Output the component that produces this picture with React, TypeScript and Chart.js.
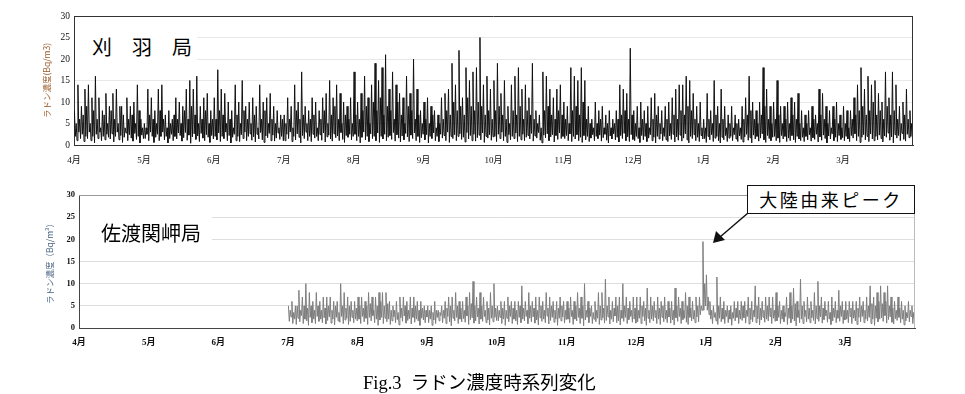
import React, { useEffect, useRef } from "react";
import { Chart, registerables } from "chart.js";

Chart.register(...registerables);

// ---- data ----
const MONTHS = ["4月", "5月", "6月", "7月", "8月", "9月", "10月", "11月", "12月", "1月", "2月", "3月"];
const PER_MONTH = 40;

// 刈羽局: local maxima, 40 per month, April → March
const kariwaPeaks = [
  8, 5, 14, 6, 9, 7, 13, 9, 14, 5, 11, 8, 16, 6, 11, 4, 8, 7, 12, 5, 9, 8, 12, 6, 13, 5, 9, 9, 7, 4, 11, 6, 9, 7, 10, 5, 14, 8, 6, 4,
  5, 4, 13, 7, 11, 6, 8, 5, 13, 8, 14, 6, 7, 4, 8, 5, 6, 7, 11, 6, 10, 5, 9, 8, 13, 6, 15, 9, 13, 7, 16, 5, 9, 6, 11, 8, 12, 5, 8, 6,
  11, 6, 17.5, 8, 13, 7, 12, 5, 10, 6, 8, 4, 14, 7, 10, 5, 15, 8, 9, 6, 10, 5, 11, 7, 9, 4, 14, 6, 10, 8, 11, 5, 12, 6, 9, 5, 8, 4, 7, 6,
  7, 5, 11, 6, 9, 4, 14, 8, 10, 6, 17, 7, 9, 5, 8, 6, 11, 7, 10, 4, 8, 6, 11, 8, 12, 5, 15, 7, 11, 9, 14, 6, 12, 5, 10, 7, 9, 6, 11, 5,
  17, 7, 10, 6, 12, 8, 16, 9, 11, 5, 14, 10, 19, 8, 15, 11, 18, 7, 21, 9, 13, 8, 17, 6, 14, 10, 12, 7, 11, 5, 16, 9, 12, 8, 20, 6, 13, 7, 8, 5,
  10, 6, 11, 5, 9, 7, 8, 4, 7, 5, 11, 6, 12, 8, 13, 7, 19, 10, 14, 8, 22, 9, 11, 7, 18, 11, 15, 9, 17, 8, 18, 10, 25, 9, 14, 7, 16, 8, 13, 6,
  15, 8, 19, 9, 12, 7, 15, 6, 9, 5, 14, 8, 16, 7, 18, 9, 13, 6, 14, 8, 11, 7, 19, 6, 8, 5, 7, 4, 17, 8, 16, 9, 13, 7, 11, 6, 13, 8, 14, 7,
  10, 6, 9, 5, 18, 8, 16, 9, 15, 7, 18, 10, 15, 6, 9, 5, 6, 4, 10, 5, 8, 6, 9, 4, 7, 5, 8, 4, 6, 5, 8, 6, 14, 7, 13, 8, 12, 6, 22.5, 7,
  8, 5, 9, 4, 10, 6, 8, 5, 9, 4, 11, 6, 12, 7, 9, 5, 8, 4, 9, 6, 10, 5, 11, 7, 13, 6, 14, 8, 14, 7, 16, 9, 15, 8, 12, 6, 9, 5, 10, 4,
  6, 4, 12, 6, 8, 5, 15, 7, 9, 5, 13, 6, 9, 4, 7, 5, 9, 4, 7, 5, 6, 4, 9, 6, 11, 7, 16, 8, 10, 6, 8, 5, 10, 7, 18, 9, 13, 6, 9, 5,
  10, 6, 15, 7, 9, 5, 9, 6, 10, 5, 11, 7, 10, 6, 12, 5, 8, 4, 7, 5, 8, 4, 9, 6, 7, 5, 13, 7, 12, 6, 9, 5, 8, 4, 9, 6, 10, 5, 7, 4,
  9, 5, 8, 4, 8, 6, 11, 7, 14, 8, 18, 9, 13, 7, 16, 8, 14, 10, 15, 7, 12, 8, 10, 6, 17, 9, 11, 7, 17, 8, 14, 6, 9, 5, 10, 7, 13, 6, 8, 5,
];
// 刈羽局: local minima between them
const kariwaLows = [
  2, 1, 3, 1.5, 2.5, 0.8, 2, 1.5, 3, 1, 2, 0.5, 2.5, 1.5, 3, 1, 2, 1.2, 2.5, 1.8, 1.4, 2.6, 0.7, 2, 3, 1.2, 2.2, 0.6, 1.8, 2.8, 1, 2.4, 1.6, 0.9, 2.7, 1.3, 2, 0.5, 2.3, 1.5,
  1.5, 2.5, 1, 3, 2, 0.6, 1.8, 2.5, 1, 2, 3, 1.2, 2, 0.5, 1.5, 2.5, 1, 2, 1.4, 2.8, 2.2, 0.9, 1.7, 2.9, 1.1, 2.3, 0.4, 1.9, 2.6, 1.3, 2.1, 0.8, 2.7, 1.6, 1, 2.4, 1.8, 0.6, 2.2, 1.4,
  2, 1.2, 2.8, 0.8, 2, 1.5, 3, 1, 2.2, 0.5, 1.8, 2.5, 1, 2, 0.8, 2.4, 1.5, 3, 1, 2, 2.6, 1.1, 1.9, 0.7, 2.5, 1.4, 2.9, 1.2, 0.6, 2.1, 1.7, 2.7, 1, 2.3, 0.9, 1.6, 2.8, 1.3, 2, 1,
  1, 2.5, 1.5, 3, 0.8, 2, 1.2, 2.6, 1.8, 0.5, 2.2, 1.5, 3, 1, 2, 0.8, 2.5, 1.6, 2, 1, 2.4, 1.1, 2.8, 0.7, 1.9, 2.3, 1.4, 0.9, 2.6, 1.7, 2.1, 1, 2.9, 1.3, 0.6, 2.2, 1.8, 2.5, 1.2, 2,
  2.5, 1, 2, 0.5, 1.8, 3, 1.2, 2, 0.8, 2.6, 1.5, 2, 1, 2.8, 0.6, 2, 1.4, 2.5, 1, 1.8, 2.2, 1.3, 2.9, 0.9, 2.4, 1.6, 0.7, 2.1, 1.2, 2.7, 1.9, 0.8, 2.3, 1.5, 2.8, 1, 2, 0.6, 1.7, 2.5,
  1.2, 2.4, 0.5, 2, 1.5, 2.8, 1, 2, 0.8, 2.5, 1.6, 2.2, 1, 3, 0.6, 2, 1.5, 2.4, 1, 2, 2.6, 1.3, 1.8, 0.7, 2.9, 1.4, 2.2, 1, 2.5, 0.9, 1.7, 2.3, 1.2, 2.8, 0.6, 2, 1.6, 2.4, 1.1, 1.9,
  2, 0.8, 2.5, 1.5, 3, 1, 2, 0.6, 2.4, 1.2, 2, 1.5, 2.8, 0.8, 2, 1.2, 2.5, 1, 1.8, 2.2, 1.4, 2.7, 0.9, 2.1, 1.6, 2.9, 1.1, 0.5, 2.3, 1.7, 2.6, 1, 1.9, 2.4, 0.7, 2.2, 1.3, 2.8, 1.5, 2,
  1.5, 2.2, 1, 2.6, 0.8, 2, 1.4, 2.4, 1, 1.8, 0.6, 2.2, 1.2, 2, 0.8, 1.6, 2.4, 1, 2, 1.5, 2.3, 0.9, 1.7, 2.5, 1.1, 0.5, 2.1, 1.4, 2.6, 1.2, 1.8, 0.7, 2.2, 1.5, 2.7, 1, 1.9, 0.8, 2.4, 1.3,
  1, 2, 1.5, 0.6, 2.2, 1.2, 2, 0.8, 1.6, 2.4, 1, 1.8, 0.5, 2, 1.4, 2.6, 1, 2, 1.2, 0.8, 2.1, 1.3, 2.5, 0.7, 1.9, 1.1, 2.3, 0.9, 1.6, 2.6, 1.2, 0.5, 2, 1.5, 2.4, 1, 1.8, 0.8, 2.2, 1.4,
  1.5, 0.6, 2, 1.2, 2.4, 0.8, 1.6, 2, 1, 0.5, 1.8, 1.2, 2.2, 0.8, 1.6, 2, 1, 2.4, 1.4, 0.8, 2.1, 1.3, 0.7, 1.9, 2.5, 1.1, 1.7, 0.5, 2.3, 1.4, 2, 0.9, 1.6, 2.6, 1.2, 0.6, 2.2, 1.5, 1, 1.8,
  2, 1, 1.6, 0.6, 2.2, 1.4, 2, 0.8, 1.6, 1, 2.2, 1.2, 0.6, 2, 1.4, 1, 1.8, 0.8, 2, 1.2, 2.4, 0.9, 1.7, 1.3, 2.5, 0.7, 1.9, 1.1, 2.3, 1.5, 0.5, 2.1, 1.4, 2.6, 1, 1.8, 0.8, 2.2, 1.3, 1.7,
  1, 2, 1.4, 0.8, 2.2, 1.6, 2.6, 1, 2, 0.6, 1.8, 2.4, 1.2, 2, 0.8, 2.6, 1.4, 1, 2, 1.2, 2.3, 1.5, 0.7, 2.1, 1.8, 2.8, 1.1, 1.9, 0.5, 2.4, 1.6, 2.2, 1, 2.7, 1.3, 0.9, 2.5, 1.7, 2, 1.2,
];

// 佐渡関岬局: starts in July (month index 3), 40 per month, July → March
const SADO_START = 3;
const sadoPeaks = [
  5, 4, 6, 3.5, 5, 5, 8.5, 4, 7, 5, 10, 4.5, 8, 5, 6, 4, 8, 5, 6, 4, 7, 4.5, 7, 5, 7, 4, 6, 5, 6, 3.5, 10, 5, 8, 4.5, 7, 5, 6, 4, 6, 4.5,
  7, 5, 7, 4.5, 6, 5, 8, 5.5, 7, 4, 7, 5, 8, 6, 8, 5, 8, 5.5, 6, 4, 5, 4, 6, 3.5, 7, 4.5, 7, 5, 6, 4, 7, 4.5, 7, 5, 6, 4, 6, 4.5, 5, 4,
  5, 4, 5, 3.5, 6, 4, 4, 3.5, 5, 4, 6, 4.5, 7, 5, 7, 4, 8, 5, 6, 4.5, 6, 4, 7, 5, 8, 5.5, 10.5, 5, 7, 4.5, 8, 5, 7, 4, 6, 4.5, 8, 5, 10, 4.5,
  5, 4, 6, 4.5, 6, 4, 7, 5, 6, 4.5, 6, 4, 6, 5, 9.5, 4.5, 6, 4, 8, 5, 6, 4.5, 7, 4, 7, 5, 6, 4, 8, 4.5, 7, 5, 6, 4, 6, 4.5, 7, 5, 6, 4,
  6, 4.5, 7, 4, 6, 5, 8, 4.5, 7, 5, 10, 4, 6, 4.5, 5, 3.5, 6, 4, 8, 5, 8, 4.5, 11, 5, 7, 4, 6, 4.5, 7, 5, 7, 4, 10, 5, 7, 4.5, 6, 4, 7, 4.5,
  7, 4, 7, 5, 6, 4.5, 9, 4, 7, 5, 6, 4, 7, 4.5, 6, 5, 7, 4, 6, 4.5, 6, 4, 9, 5, 7, 4.5, 6, 4, 8, 5, 7, 4.5, 6, 4, 7, 5, 7, 5, 19.5, 10,
  12, 7, 6, 4, 5, 3.5, 11.5, 5, 7, 4.5, 6, 4, 5, 4, 5, 3.5, 6, 4.5, 6, 4, 6, 5, 6, 4, 7, 4.5, 6, 4, 9.5, 5, 7, 4.5, 6, 4, 7, 5, 7, 4.5, 7, 4,
  8, 5, 6, 4, 5, 3.5, 7, 4.5, 8, 5, 9, 5.5, 6, 4, 11, 5, 6, 4, 7, 4.5, 6, 4, 8, 5, 10.5, 5, 7, 4.5, 6, 4, 6, 3.5, 7, 4.5, 6, 4, 8.5, 5, 6, 4,
  6, 4, 6, 4.5, 6, 4, 6, 4.5, 7, 5, 6, 4, 7, 5, 9.5, 5.5, 7, 5, 8, 6, 9.5, 5.5, 8, 6, 9.5, 5, 7, 4.5, 6, 4, 7, 4.5, 6, 4, 5, 3.5, 6, 4, 5, 3.5,
];
const sadoLows = [
  1.5, 2.5, 1, 2, 0.8, 2.2, 1.4, 2.8, 1, 2, 1.6, 0.6, 2.4, 1.2, 2, 1, 2.6, 1.5, 2, 1.2, 2.3, 0.9, 1.7, 2.5, 1.1, 2, 0.7, 2.4, 1.6, 1.3, 2.6, 1, 1.8, 2.2, 0.8, 1.5, 2.4, 1.2, 2, 1.6,
  2, 1, 2.6, 1.4, 2.2, 0.8, 2.4, 1.6, 2.8, 1.2, 2, 0.6, 1.8, 2.4, 1, 2.2, 1.4, 2, 0.8, 1.6, 2.5, 1.2, 1.9, 0.7, 2.3, 1.5, 2.7, 1.1, 1.7, 2.1, 0.9, 2.4, 1.3, 2, 1.6, 0.6, 2.2, 1.8, 1.2, 2.5,
  1.2, 2, 0.6, 1.8, 1, 2.4, 1.6, 2.8, 1.2, 2.2, 1, 2.6, 1.4, 0.5, 2.2, 1.6, 2.4, 1, 2, 1.4, 2.1, 1.3, 2.7, 0.8, 1.9, 2.3, 1.1, 1.6, 2.5, 0.9, 2, 1.5, 2.6, 1.2, 1.8, 0.7, 2.2, 1.4, 2.4, 1.7,
  1.6, 2.4, 1, 2, 0.6, 2.2, 1.4, 2.6, 1, 2, 1.6, 0.8, 2.4, 1.2, 2, 1.6, 2.6, 1, 2.2, 1.4, 2.5, 1.1, 1.8, 0.7, 2.3, 1.5, 2, 1.2, 2.7, 0.9, 1.7, 2.4, 1.3, 2, 0.6, 2.2, 1.6, 2.5, 1.1, 1.9,
  2, 1.2, 2.6, 0.8, 2, 1.6, 2.4, 1, 2.2, 0.5, 1.8, 2.4, 1.2, 2.6, 1, 2, 1.4, 2.2, 0.8, 1.8, 2.3, 1.1, 1.7, 2.5, 0.9, 2, 1.4, 2.7, 1.2, 1.6, 0.7, 2.2, 1.5, 2.4, 1, 1.9, 2.6, 1.3, 2, 1.1,
  1.4, 2.2, 1, 2.6, 1.6, 0.6, 2.2, 1.2, 2, 1.6, 2.4, 1, 2, 0.8, 2.4, 1.4, 2, 1.2, 2.5, 1.1, 1.8, 0.7, 2.3, 1.5, 2.6, 1, 1.9, 2.2, 1.3, 0.8, 2.4, 1.6, 2, 1.2, 2.5, 1.4, 3, 4, 4, 5,
  4, 3, 2, 1, 2.4, 1.6, 0.8, 2.2, 1.4, 2, 1, 2.6, 1.2, 2, 0.6, 2.2, 1.6, 2.4, 1, 2, 1.7, 2.3, 1.1, 2.6, 0.9, 1.9, 1.4, 2.5, 1.2, 2.1, 0.7, 1.8, 2.4, 1.3, 2, 1.6, 2.6, 1, 2.2, 1.5,
  1.6, 2.4, 1, 2, 1.4, 2.6, 0.8, 2.2, 1.2, 2, 1.6, 0.5, 2.4, 1.2, 2, 1, 2.6, 1.4, 2, 1.2, 2.3, 1.7, 0.9, 2.1, 1.5, 2.5, 1.1, 1.9, 2.7, 1.3, 2, 0.8, 1.6, 2.4, 1.2, 2.2, 1.5, 2.6, 1, 1.8,
  2, 1.2, 2.6, 1, 2.2, 1.6, 0.8, 2.4, 1.4, 2.6, 1.2, 2, 1.6, 2.4, 1, 2, 0.6, 2.2, 1.4, 2, 2.3, 1.5, 2.8, 1.1, 1.9, 2.5, 1.3, 0.9, 2.1, 1.7, 2.4, 1.2, 2, 0.7, 1.6, 2.3, 1.4, 2.6, 1, 1.8,
];

// ---- helpers ----
function envelopePoints(peaks: number[], lows: number[], startMonth: number) {
  const pts: { x: number; y: number }[] = [];
  peaks.forEach((p, i) => {
    const m = startMonth + Math.floor(i / PER_MONTH);
    const k = i % PER_MONTH;
    pts.push({ x: m + (k + 0.25) / PER_MONTH, y: p });
    pts.push({ x: m + (k + 0.75) / PER_MONTH, y: lows[i] });
  });
  return pts;
}

const SERIF = "'Liberation Serif', 'Times New Roman', 'Noto Sans CJK JP', serif";
const GOTHIC = "'Noto Sans CJK JP', 'Noto Sans', sans-serif";

const framePlugin = {
  id: "frame",
  afterDraw(chart: any, _args: any, opts: any) {
    const { ctx, chartArea } = chart;
    const { left, top, right, bottom } = chartArea;
    ctx.save();
    ctx.lineWidth = 1;
    ctx.strokeStyle = opts.topColor;
    ctx.beginPath();
    ctx.moveTo(left, top + 0.5);
    ctx.lineTo(right, top + 0.5);
    ctx.stroke();
    ctx.strokeStyle = opts.rightColor;
    ctx.beginPath();
    ctx.moveTo(right - 0.5, top);
    ctx.lineTo(right - 0.5, bottom);
    ctx.stroke();
    ctx.restore();
  },
};

type PanelProps = {
  top: number;
  height: number;
  data: { x: number; y: number }[];
  color: string;
  padLeft: number;
  padTop: number;
  padRight: number;
  yWidth: number;
  xHeight: number;
  yTitle: string;
  yTitleColor: string;
  yTickSize: number;
  yTickWeight: string;
  xTickPad: number;
  frameTop: string;
  frameRight: string;
  axisColor: string;
  gridColor: string;
};

function Panel(p: PanelProps) {
  const ref = useRef<HTMLCanvasElement | null>(null);
  useEffect(() => {
    if (!ref.current) return;
    const chart = new Chart(ref.current, {
      type: "line",
      data: {
        datasets: [
          {
            data: p.data,
            borderColor: p.color,
            borderWidth: 1,
            pointRadius: 0,
            tension: 0,
            fill: false,
          },
        ],
      },
      options: {
        responsive: false,
        animation: false,
        events: [],
        layout: { padding: { left: p.padLeft, top: p.padTop, right: p.padRight, bottom: 0 } },
        plugins: {
          legend: { display: false },
          tooltip: { enabled: false },
          frame: { topColor: p.frameTop, rightColor: p.frameRight },
        } as any,
        scales: {
          x: {
            type: "linear",
            min: 0,
            max: 12,
            afterFit: (s: any) => {
              s.height = p.xHeight;
            },
            afterBuildTicks: (s: any) => {
              s.ticks = MONTHS.map((_, i) => ({ value: i }));
            },
            ticks: {
              autoSkip: false,
              maxRotation: 0,
              padding: p.xTickPad,
              color: "#111",
              font: { family: SERIF, size: 9, weight: p.yTickWeight as any },
              callback: (v: any) => MONTHS[Number(v)] ?? "",
            },
            grid: { display: false, drawTicks: false },
            border: { display: true, color: p.axisColor, width: 1 },
          },
          y: {
            type: "linear",
            min: 0,
            max: 30,
            afterFit: (s: any) => {
              s.width = p.yWidth;
            },
            ticks: {
              stepSize: 5,
              padding: 4,
              color: "#111",
              font: { family: SERIF, size: p.yTickSize, weight: p.yTickWeight as any },
            },
            grid: {
              drawTicks: false,
              color: (c: any) =>
                c.tick && (c.tick.value === 0 || c.tick.value === 30) ? "rgba(0,0,0,0)" : p.gridColor,
            },
            border: { display: true, color: p.axisColor, width: 1 },
            title: {
              display: true,
              text: p.yTitle,
              color: p.yTitleColor,
              font: { family: GOTHIC, size: 8.5 },
              padding: { top: 4, bottom: 0 },
            },
          },
        },
      },
      plugins: [framePlugin],
    });
    return () => chart.destroy();
  }, []);
  return (
    <canvas
      ref={ref}
      width={965}
      height={p.height}
      style={{ position: "absolute", left: 0, top: p.top, width: 965, height: p.height, display: "block" }}
    />
  );
}

export default function App() {
  const kariwa = envelopePoints(kariwaPeaks, kariwaLows, 0);
  const sado = envelopePoints(sadoPeaks, sadoLows, SADO_START);
  return (
    <div
      style={{
        position: "fixed",
        left: 0,
        top: 0,
        width: 965,
        height: 394,
        background: "#fff",
        overflow: "hidden",
      }}
    >
      <Panel
        top={0}
        height={172}
        data={kariwa}
        color="#111"
        padLeft={38}
        padTop={16}
        padRight={52}
        yWidth={36}
        xHeight={27}
        yTitle="ラドン濃度(Bq/m3)"
        yTitleColor="#9a5a2a"
        yTickSize={9.5}
        yTickWeight="normal"
        xTickPad={10}
        frameTop="#333"
        frameRight="#333"
        axisColor="#333"
        gridColor="#e8e8e8"
      />
      <Panel
        top={180}
        height={172}
        data={sado}
        color="#7d7d7d"
        padLeft={41}
        padTop={15}
        padRight={50}
        yWidth={38}
        xHeight={24}
        yTitle="ラドン濃度（Bq/m³）"
        yTitleColor="#4a6482"
        yTickSize={8.5}
        yTickWeight="bold"
        xTickPad={9}
        frameTop="#999"
        frameRight="#bbb"
        axisColor="#444"
        gridColor="#dedede"
      />

      {/* station labels */}
      <div
        style={{
          position: "absolute",
          left: 75,
          top: 26,
          width: 122,
          height: 42,
          background: "#fff",
        }}
      >
        <div
          style={{
            position: "absolute",
            left: 17,
            top: 0,
            height: 42,
            lineHeight: "42px",
            fontFamily: GOTHIC,
            fontSize: 20,
            color: "#000",
            whiteSpace: "pre",
          }}
        >
          刈　羽　局
        </div>
      </div>
      <div
        style={{
          position: "absolute",
          left: 80,
          top: 205,
          width: 132,
          height: 46,
          background: "#fff",
        }}
      >
        <div
          style={{
            position: "absolute",
            left: 21,
            top: 0,
            height: 56,
            lineHeight: "56px",
            fontFamily: GOTHIC,
            fontSize: 20,
            color: "#000",
            whiteSpace: "pre",
          }}
        >
          佐渡関岬局
        </div>
      </div>

      {/* annotation */}
      <div
        style={{
          position: "absolute",
          left: 747,
          top: 185,
          width: 168,
          height: 29,
          boxSizing: "border-box",
          border: "1.5px solid #111",
          background: "#fff",
          textAlign: "center",
          lineHeight: "26px",
          fontFamily: GOTHIC,
          fontSize: 18,
          letterSpacing: 2.5,
          color: "#000",
        }}
      >
        大陸由来ピーク
      </div>
      <svg
        width={965}
        height={394}
        style={{ position: "absolute", left: 0, top: 0, pointerEvents: "none" }}
      >
        <line x1={748} y1={213} x2={720} y2={237} stroke="#111" strokeWidth={1.5} />
        <polygon points="713,243 716,231 725,240" fill="#111" />
      </svg>

      {/* caption */}
      <div
        style={{
          position: "absolute",
          left: 363,
          top: 372,
          fontFamily: SERIF,
          fontSize: 18.5,
          color: "#000",
          whiteSpace: "pre",
          lineHeight: "22px",
        }}
      >
        Fig.3  ラドン濃度時系列変化
      </div>
    </div>
  );
}
